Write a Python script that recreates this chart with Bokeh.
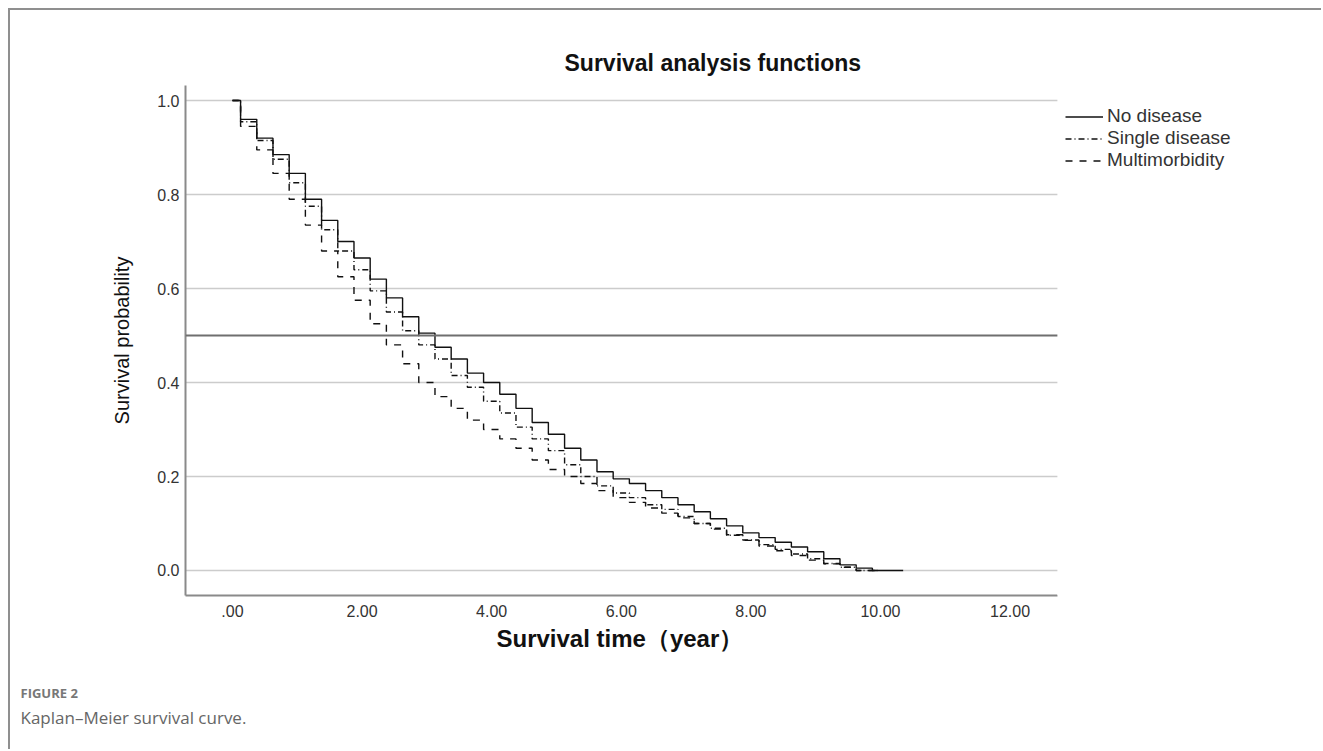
from bokeh.plotting import figure
from bokeh.models import (FixedTicker, Span, Legend, LegendItem, Title, Range1d,
                          InlineStyleSheet, BoxAnnotation)
from bokeh.embed import file_html
from bokeh.resources import INLINE

# ---- data ----
time_years = [0.0, 0.25, 0.5, 0.75, 1.0, 1.25, 1.5, 1.75, 2.0, 2.25, 2.5, 2.75,
              3.0, 3.25, 3.5, 3.75, 4.0, 4.25, 4.5, 4.75, 5.0, 5.25, 5.5, 5.75,
              6.0, 6.25, 6.5, 6.75, 7.0, 7.25, 7.5, 7.75, 8.0, 8.25, 8.5, 8.75,
              9.0, 9.25, 9.5, 9.75, 10.0, 10.35]
no_disease = [1.0, 0.96, 0.92, 0.885, 0.845, 0.79, 0.745, 0.70, 0.665, 0.62, 0.58, 0.54,
              0.505, 0.475, 0.45, 0.42, 0.40, 0.375, 0.345, 0.315, 0.29, 0.26, 0.235, 0.21,
              0.195, 0.185, 0.17, 0.155, 0.14, 0.125, 0.11, 0.095, 0.08, 0.07, 0.06, 0.05,
              0.04, 0.025, 0.012, 0.005, 0.0, 0.0]
single_disease = [1.0, 0.955, 0.915, 0.875, 0.825, 0.775, 0.725, 0.68, 0.64, 0.595, 0.55, 0.51,
                  0.48, 0.45, 0.415, 0.39, 0.36, 0.335, 0.305, 0.28, 0.255, 0.225, 0.2, 0.18,
                  0.165, 0.155, 0.14, 0.13, 0.115, 0.1, 0.09, 0.075, 0.065, 0.055, 0.045, 0.035,
                  0.025, 0.015, 0.007, 0.0, 0.0, None]
multimorbidity = [1.0, 0.945, 0.895, 0.845, 0.79, 0.735, 0.68, 0.625, 0.575, 0.525, 0.48, 0.44,
                  0.40, 0.37, 0.345, 0.32, 0.30, 0.28, 0.26, 0.235, 0.215, 0.20, 0.185, 0.17,
                  0.155, 0.145, 0.133, 0.122, 0.112, 0.10, 0.088, 0.076, 0.064, 0.052, 0.042, 0.032,
                  0.022, 0.014, 0.007, 0.0, 0.0, None]
series_names = ["No disease", "Single disease", "Multimorbidity"]
x_ticks = [0, 2, 4, 6, 8, 10, 12]
x_tick_labels = [".00", "2.00", "4.00", "6.00", "8.00", "10.00", "12.00"]
y_ticks = [0.0, 0.2, 0.4, 0.6, 0.8, 1.0]
y_tick_labels = ["0.0", "0.2", "0.4", "0.6", "0.8", "1.0"]
reference_level = 0.5

FONT = "Liberation Sans"
X0, X1 = -0.725, 12.73          # plotted x extent (axis + grid)
PX_PER_YEAR = 64.8
CANVAS_W, CANVAS_H = 1313, 741
LEFT_B = 175
X_END = X0 + (CANVAS_W - LEFT_B) / PX_PER_YEAR   # frame runs to canvas edge (room for legend)

p = figure(width=CANVAS_W, height=CANVAS_H, output_backend="svg", toolbar_location=None,
           title="Survival analysis functions",
           x_range=Range1d(X0, X_END), y_range=Range1d(-0.0532, 1.032),
           min_border_left=LEFT_B, min_border_right=0, min_border_top=75,
           min_border_bottom=156)
p.stylesheets = [InlineStyleSheet(css=":host { margin-left: 8px; margin-top: 8px; border-top: 2px solid #8f8f8f; border-left: 2px solid #8f8f8f; }")]
p.outline_line_color = None
p.background_fill_color = "white"
p.border_fill_color = "white"

# title
p.title.align = "left"
p.title.offset = 379
p.title.text_font = FONT
p.title.text_font_size = "23px"
p.title.text_font_style = "bold"
p.title.text_color = "#111111"
p.title.standoff = 20

# axes
for ax in (p.xaxis[0], p.yaxis[0]):
    ax.axis_line_color = "#8a8a8a"
    ax.axis_line_width = 2
    ax.major_tick_line_color = None
    ax.minor_tick_line_color = None
    ax.major_label_text_font = FONT
    ax.major_label_text_font_size = "16px"
    ax.major_label_text_color = "#333333"
    ax.axis_label_text_font = FONT
    ax.axis_label_text_color = "#111111"

p.xaxis[0].ticker = FixedTicker(ticks=x_ticks)
p.xaxis[0].bounds = (X0, X1)
p.xaxis[0].major_label_overrides = {t: l for t, l in zip(x_ticks, x_tick_labels)}
p.xaxis[0].major_label_standoff = 3

p.yaxis[0].ticker = FixedTicker(ticks=y_ticks)
p.yaxis[0].major_label_overrides = {t: l for t, l in zip(y_ticks, y_tick_labels)}
p.yaxis[0].major_tick_out = 0
p.yaxis[0].major_label_standoff = 6
p.yaxis[0].axis_label = "Survival probability"
p.yaxis[0].axis_label_text_font_size = "20px"
p.yaxis[0].axis_label_text_font_style = "normal"
p.yaxis[0].axis_label_standoff = 21

p.xgrid.visible = False
p.ygrid[0].ticker = FixedTicker(ticks=y_ticks)
p.ygrid.grid_line_color = "#cccccc"
p.ygrid.grid_line_width = 1.5

p.add_layout(Span(location=reference_level, dimension="width",
                  line_color="#6f6f6f", line_width=2))
# blank out the strip right of the plotting area (legend lives there)
p.add_layout(BoxAnnotation(left=X1, fill_color="white", fill_alpha=1.0,
                           line_color=None))

def clean(xs, ys):
    pts = [(x, y) for x, y in zip(xs, ys) if y is not None]
    return [a for a, _ in pts], [b for _, b in pts]

styles = [("solid", 1.4), ("6 3 1 3", 1.4), ("7 7", 1.4)]
renderers = []
for ys, (dash, w) in zip([no_disease, single_disease, multimorbidity], styles):
    xs_c, ys_c = clean(time_years, ys)
    r = p.step(xs_c, ys_c, mode="center", line_color="#111111", line_width=w,
               line_dash=dash)
    renderers.append(r)

legend = Legend(items=[LegendItem(label=n, renderers=[r])
                       for n, r in zip(series_names, renderers)],
                location=(880, 424), margin=0, padding=0, spacing=0,
                glyph_width=38, glyph_height=21, label_height=21,
                label_standoff=4, border_line_color=None,
                background_fill_alpha=0,
                label_text_font=FONT, label_text_font_size="19px",
                label_text_color="#333333")
p.add_layout(legend, "center")

# x-axis title and caption below the chart
xlab = Title(text="Survival time（year）\n", align="left", offset=311, text_font=FONT,
             text_font_size="24px", text_font_style="bold", text_color="#111111",
             standoff=6)
cap1 = Title(text="FIGURE 2", align="left", offset=-165, text_font="Open Sans",
             text_font_size="13px", text_font_style="bold", text_color="#777777",
             standoff=0)
cap2 = Title(text="Kaplan–Meier survival curve.", align="left", offset=-165,
             text_font="Open Sans", text_font_size="17px", text_font_style="normal",
             text_color="#666666", standoff=4)
p.add_layout(xlab, "below")
p.add_layout(cap1, "below")
p.add_layout(cap2, "below")

open("out.html", "w").write(file_html(p, INLINE))
